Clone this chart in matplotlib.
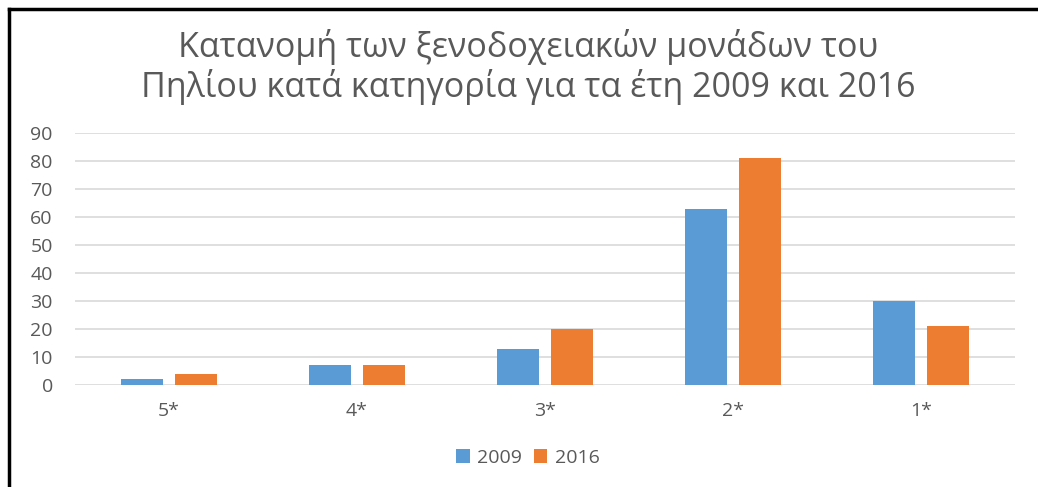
import matplotlib.pyplot as plt
import numpy as np
from matplotlib.lines import Line2D

# Data
categories = ['5*', '4*', '3*', '2*', '1*']
units_2009 = [2, 7, 13, 63, 30]
units_2016 = [4, 7, 20, 81, 21]
series_labels = ['2009', '2016']
title = 'Κατανομή των ξενοδοχειακών μονάδων του\nΠηλίου κατά κατηγορία για τα έτη 2009 και 2016'

plt.rcParams['font.family'] = ['Open Sans', 'DejaVu Sans']

W, H = 1038, 487
fig = plt.figure(figsize=(W / 100, H / 100), dpi=100)
ax = fig.add_axes([75 / W, 1 - 385 / H, 940 / W, 252 / H])

x = np.arange(len(categories))
bw = 42 / 188
gap = 12 / 188
ax.bar(x - (bw + gap) / 2, units_2009, bw, color='#5b9bd5', label=series_labels[0], zorder=3)
ax.bar(x + (bw + gap) / 2, units_2016, bw, color='#ed7d31', label=series_labels[1], zorder=3)

ax.set_xlim(-0.5, len(categories) - 0.5)
ax.set_ylim(0, 90)
ax.set_yticks(range(0, 91, 10))
ax.set_xticks(x)
ax.set_xticklabels(categories)
ax.grid(axis='y', color='#d9d9d9', linewidth=1.2, zorder=0)
for s in ax.spines.values():
    s.set_visible(False)
ax.tick_params(length=0, colors='#595959', labelsize=14)
ax.tick_params(axis='x', pad=12)
ax.tick_params(axis='y', pad=16)

lines = title.split('\n')
fig.text(528 / W, 1 - 47 / H, lines[0], ha='center', va='center',
         fontsize=24.5, color='#595959')
fig.text(528 / W, 1 - 87 / H, lines[1], ha='center', va='center',
         fontsize=24.5, color='#595959')

ax.legend(loc='center', bbox_to_anchor=(528 / W, 1 - 458 / H), bbox_transform=fig.transFigure,
          ncol=2, frameon=False, fontsize=14, labelcolor='#595959',
          handlelength=0.7, handleheight=0.7, handletextpad=0.4, columnspacing=0.6)

# frame lines at left and top
fig.add_artist(Line2D([9 / W, 9 / W], [0, 1 - 9 / H], transform=fig.transFigure, color='black', linewidth=2.5))
fig.add_artist(Line2D([9 / W, 1], [1 - 9 / H, 1 - 9 / H], transform=fig.transFigure, color='black', linewidth=2.5))

fig.savefig('out.png', dpi=100)
